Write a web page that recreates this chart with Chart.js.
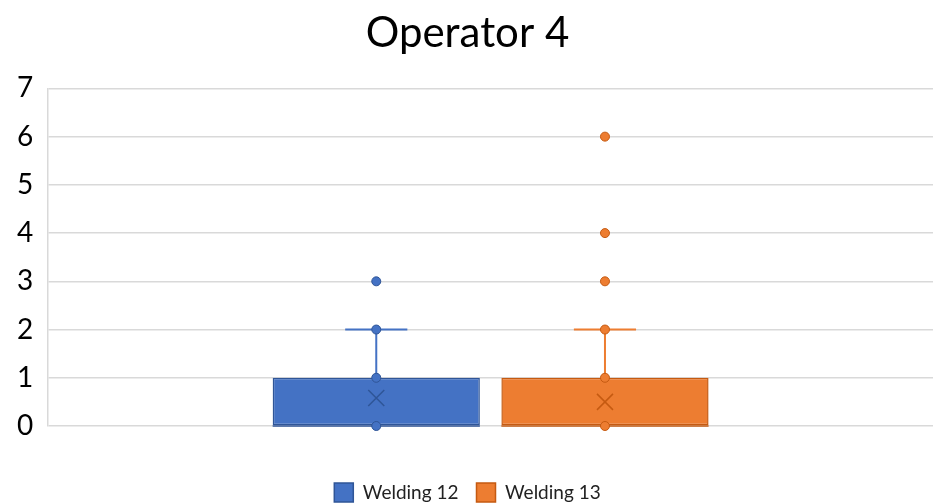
<!DOCTYPE html>
<html>
<head>
<meta charset="utf-8">
<script src="https://cdn.jsdelivr.net/npm/chart.js@4"></script>
<style>
  html, body { margin: 0; padding: 0; background: #fff; }
  #wrap { width: 933px; height: 503px; }
</style>
</head>
<body>
<div id="wrap"><canvas id="boxChart"></canvas></div>
<script>
// Box plot data
const series = ['Welding 12', 'Welding 13'];
const q1 = [0, 0];
const q3 = [1, 1];
const median = [0, 0];
const whiskerLow = [0, 0];
const whiskerHigh = [2, 2];
const means = [0.58, 0.5];
const welding12Points = [0, 1, 2, 3];
const welding13Points = [0, 1, 2, 3, 4, 6];
const yTicks = [0, 1, 2, 3, 4, 5, 6, 7];

const allPoints = [welding12Points, welding13Points];
const fills = ['#4472C4', '#ED7D31'];
const edges = ['#2F5597', '#C55A11'];
const fontFam = 'Lato, "Open Sans", sans-serif';

// draws whiskers, caps, median, mean cross and points on top of the bars
const boxExtras = {
  id: 'boxExtras',
  afterDatasetsDraw(chart) {
    const ctx = chart.ctx;
    const y = chart.scales.y;
    series.forEach((name, i) => {
      const bar = chart.getDatasetMeta(i).data[0];
      if (!bar) return;
      const x = bar.x;
      const capHalf = bar.width * 0.15;
      ctx.save();
      ctx.strokeStyle = fills[i];
      ctx.lineWidth = 2;
      // upper whisker + cap
      ctx.beginPath();
      ctx.moveTo(x, y.getPixelForValue(q3[i]));
      ctx.lineTo(x, y.getPixelForValue(whiskerHigh[i]));
      ctx.moveTo(x - capHalf, y.getPixelForValue(whiskerHigh[i]));
      ctx.lineTo(x + capHalf, y.getPixelForValue(whiskerHigh[i]));
      // lower whisker
      ctx.moveTo(x, y.getPixelForValue(q1[i]));
      ctx.lineTo(x, y.getPixelForValue(whiskerLow[i]));
      ctx.stroke();
      // median line
      ctx.strokeStyle = edges[i];
      ctx.lineWidth = 1.5;
      ctx.beginPath();
      ctx.moveTo(bar.x - bar.width / 2, y.getPixelForValue(median[i]));
      ctx.lineTo(bar.x + bar.width / 2, y.getPixelForValue(median[i]));
      ctx.stroke();
      // mean cross
      const my = y.getPixelForValue(means[i]);
      ctx.beginPath();
      ctx.moveTo(x - 8, my - 8);
      ctx.lineTo(x + 8, my + 8);
      ctx.moveTo(x + 8, my - 8);
      ctx.lineTo(x - 8, my + 8);
      ctx.stroke();
      // points
      allPoints[i].forEach(v => {
        ctx.beginPath();
        ctx.arc(x, y.getPixelForValue(v), 4.5, 0, Math.PI * 2);
        ctx.fillStyle = fills[i];
        ctx.fill();
        ctx.lineWidth = 1;
        ctx.strokeStyle = edges[i];
        ctx.stroke();
      });
      ctx.restore();
    });
  }
};

const ctx = document.getElementById('boxChart').getContext('2d');
const boxChart = new Chart(ctx, {
  type: 'bar',
  data: {
    labels: [''],
    datasets: series.map((name, i) => ({
      label: name,
      data: [[q1[i], q3[i]]],
      backgroundColor: fills[i],
      borderColor: edges[i],
      borderWidth: 1.5,
      borderSkipped: false,
      categoryPercentage: 0.517,
      barPercentage: 0.906
    }))
  },
  options: {
    responsive: true,
    maintainAspectRatio: false,
    animation: false,
    layout: { padding: { left: 2, right: 0, top: 4, bottom: -9 } },
    plugins: {
      title: {
        display: true,
        text: 'Operator 4',
        color: '#000',
        font: { family: fontFam, size: 42, weight: 'normal' },
        padding: { top: 4, bottom: 30 }
      },
      legend: {
        position: 'bottom',
        labels: {
          color: '#222',
          font: { family: fontFam, size: 19 },
          boxWidth: 19,
          boxHeight: 19,
          padding: 18
        }
      },
      tooltip: { enabled: false }
    },
    scales: {
      x: {
        ticks: { display: false },
        grid: { display: false },
        border: { display: false },
        afterFit: axis => { axis.height = 39; }
      },
      y: {
        min: 0,
        max: 7,
        afterBuildTicks: axis => { axis.ticks = yTicks.map(v => ({ value: v })); },
        ticks: {
          color: '#000',
          font: { family: fontFam, size: 28 },
          padding: 15
        },
        grid: { color: '#d9d9d9', lineWidth: 1.5, drawTicks: false },
        border: { display: true, color: '#d9d9d9', width: 1.5 }
      }
    }
  },
  plugins: [boxExtras]
});
</script>
</body>
</html>
